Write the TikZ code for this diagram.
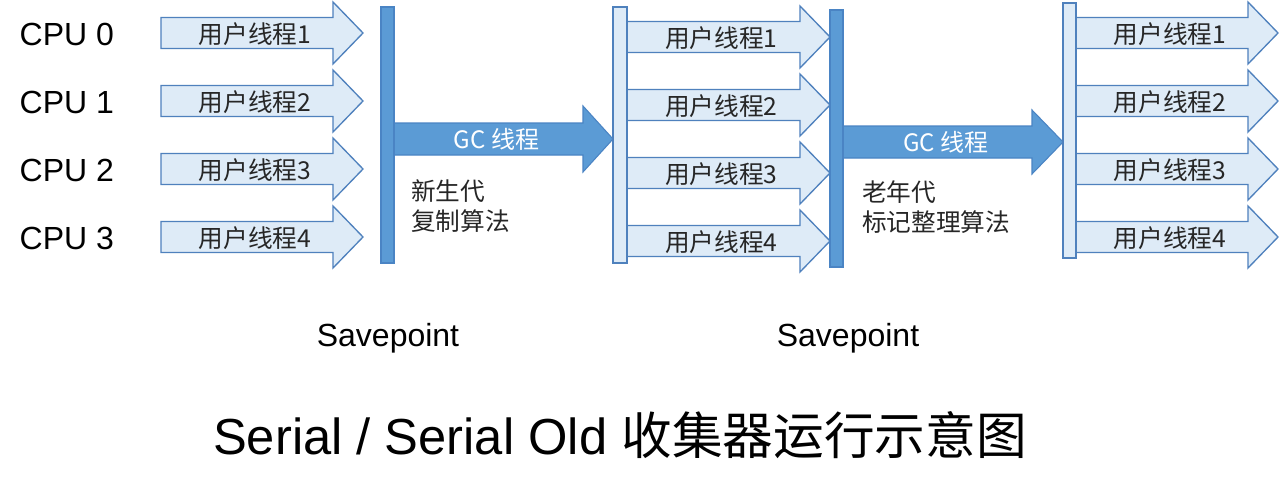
\documentclass[tikz,border=0pt]{standalone}
\usepackage{fontspec}
\setmainfont{Liberation Sans}
\newfontfamily\cjk{Noto Sans CJK SC}
\definecolor{lightfill}{HTML}{DEEBF7}
\definecolor{edgeblue}{HTML}{4F81BD}
\definecolor{darkfill}{HTML}{5B9BD5}
\definecolor{darkedge}{HTML}{4A84C4}
\newcommand{\blockarrow}[8]{%
  \draw[#8] (#2,{#5-#6}) -- (#3,{#5-#6}) -- (#3,{#5-#7}) -- (#4,#5) -- (#3,{#5+#7}) -- (#3,{#5+#6}) -- (#2,{#5+#6}) -- cycle;
  \coordinate (#1) at ({(#2+#4)/2-7},#5);
}
\tikzset{
  userarrow/.style={fill=lightfill, draw=edgeblue, line width=1pt, line join=miter},
  gcarrow/.style={fill=darkfill, draw=darkedge, line width=0.8pt, line join=miter},
  darkbar/.style={fill=darkfill, draw=darkedge, line width=0.8pt},
  lightbar/.style={fill=lightfill, draw=edgeblue, line width=1pt},
  ulabel/.style={font=\cjk\fontsize{18.5}{18.5}\selectfont, text=black!85, yshift=-1pt},
  gclabel/.style={font=\cjk\fontsize{18}{18}\selectfont, text=white},
  cpulabel/.style={font=\fontsize{24}{24}\selectfont, anchor=west, text=black},
  note/.style={font=\cjk\fontsize{18.5}{22.5}\selectfont, anchor=north west, align=left, text=black!85, inner sep=0pt},
  savelabel/.style={font=\fontsize{24}{24}\selectfont, text=black},
}
\begin{document}
\begin{tikzpicture}[x=0.75pt,y=-0.75pt]
\useasboundingbox (0,0) rectangle (1280,493);
\fill[white] (0,0) rectangle (1280,493);

% CPU labels
\node[cpulabel] (cpu0) at (15,34) {CPU 0};
\node[cpulabel] (cpu1) at (15,102) {CPU 1};
\node[cpulabel] (cpu2) at (15,170) {CPU 2};
\node[cpulabel] (cpu3) at (15,238) {CPU 3};

% group 1 user threads
\blockarrow{a1}{161}{333}{363}{33}{15.5}{31}{userarrow}
\blockarrow{a2}{161}{333}{363}{101}{15.5}{31}{userarrow}
\blockarrow{a3}{161}{333}{363}{169}{15.5}{31}{userarrow}
\blockarrow{a4}{161}{333}{363}{237}{15.5}{31}{userarrow}
\node[ulabel] (la1) at (a1) {用户线程1};
\node[ulabel] (la2) at (a2) {用户线程2};
\node[ulabel] (la3) at (a3) {用户线程3};
\node[ulabel] (la4) at (a4) {用户线程4};

% GC arrow 1
\blockarrow{g1}{394}{583}{613}{139}{16}{33}{gcarrow}
\node[gclabel] (lg1) at (g1) {GC 线程};
\node[note] (n1) at (411,179) {新生代\\复制算法};

% group 2 user threads
\blockarrow{b1}{627}{800}{830}{37}{15.5}{31}{userarrow}
\blockarrow{b2}{627}{800}{830}{105}{15.5}{31}{userarrow}
\blockarrow{b3}{627}{800}{830}{173}{15.5}{31}{userarrow}
\blockarrow{b4}{627}{800}{830}{241}{15.5}{31}{userarrow}
\node[ulabel] (lb1) at (b1) {用户线程1};
\node[ulabel] (lb2) at (b2) {用户线程2};
\node[ulabel] (lb3) at (b3) {用户线程3};
\node[ulabel] (lb4) at (b4) {用户线程4};

% GC arrow 2
\blockarrow{g2}{843}{1032}{1063}{142}{16}{32}{gcarrow}
\node[gclabel] (lg2) at (g2) {GC 线程};
\node[note] (n2) at (862,180) {老年代\\标记整理算法};

% group 3 user threads
\blockarrow{c1}{1076}{1248}{1278}{33}{15.5}{31}{userarrow}
\blockarrow{c2}{1076}{1248}{1278}{101}{15.5}{31}{userarrow}
\blockarrow{c3}{1076}{1248}{1278}{169}{15.5}{31}{userarrow}
\blockarrow{c4}{1076}{1248}{1278}{237}{15.5}{31}{userarrow}
\node[ulabel] (lc1) at (c1) {用户线程1};
\node[ulabel] (lc2) at (c2) {用户线程2};
\node[ulabel] (lc3) at (c3) {用户线程3};
\node[ulabel] (lc4) at (c4) {用户线程4};

% bars
\draw[darkbar] (381,7) rectangle (394,263);
\draw[lightbar] (613,7) rectangle (627,263);
\draw[darkbar] (830,10) rectangle (843,267);
\draw[lightbar] (1063,3) rectangle (1076,258);

% savepoints
\node[savelabel] (s1) at (388,338) {Savepoint};
\node[savelabel] (s2) at (848,338) {Savepoint};

% title
\node[font=\fontsize{38}{38}\selectfont, text=black] (title) at (620,435) {Serial / Serial Old {\cjk 收集器运行示意图}};
\end{tikzpicture}
\end{document}
